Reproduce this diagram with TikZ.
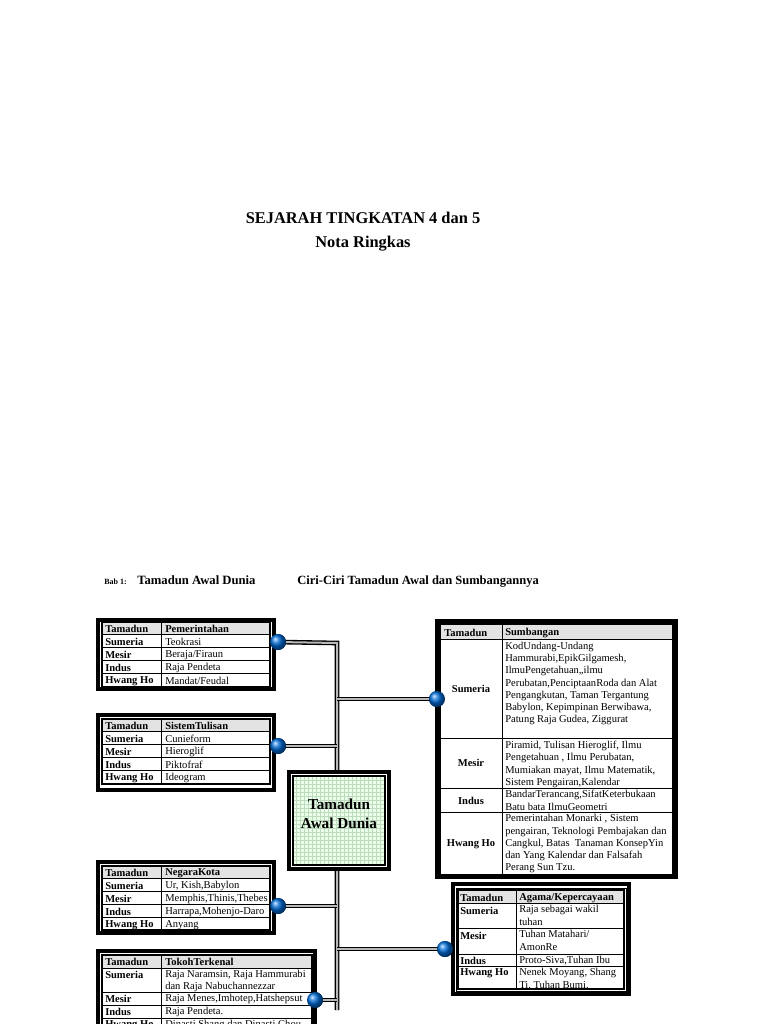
\documentclass[tikz,border=0pt]{standalone}
\usepackage{fontspec}
\setmainfont{Liberation Serif}
\usetikzlibrary{patterns}
\tikzset{
  tt/.style={font=\fontsize{7.9}{9.2}\selectfont, inner sep=0pt, anchor=west, yshift=-0.6pt},
  frame/.style={draw=black, line width=2.6pt},
  inner/.style={draw=black, line width=0.8pt},
  grid/.style={draw=black, line width=0.5pt},
  hdr/.style={fill=gray!22},
  conn/.style={draw=black, line width=1pt, double=gray!55, double distance=1.5pt},
  ball/.style={circle, minimum size=12pt, inner sep=0pt, ball color=blue!50!cyan!85!black, draw=none},
}
\newcommand\stbl[9]{%
  \fill[hdr] (#1,#4) rectangle (#2,#5);
  \draw[grid] (#1,#5) -- (#2,#5) (#1,#6) -- (#2,#6) (#1,#7) -- (#2,#7) (#1,#8) -- (#2,#8) (#3,#4) -- (#3,#9);
  \draw[inner] (#1,#4) rectangle (#2,#9);
}
\begin{document}
\begin{tikzpicture}[x=0.75pt,y=-0.75pt]
\useasboundingbox[fill=white] (0,0) rectangle (768,1024);
\begin{scope}
\clip (0,0) rectangle (768,1024);
% title
\node[font=\bfseries\fontsize{12.3}{14}\selectfont] (t1) at (363,218) {SEJARAH TINGKATAN 4 dan 5};
\node[font=\bfseries\fontsize{12.3}{14}\selectfont] (t2) at (363,244) {Nota Ringkas};
\node[anchor=base west, inner sep=0pt, font=\bfseries\fontsize{6}{8}\selectfont] (b1) at (104,584) {Bab 1:};
\node[anchor=base west, inner sep=0pt, font=\bfseries\fontsize{9.5}{11}\selectfont] (b2) at (137,584) {Tamadun Awal Dunia};
\node[anchor=base west, inner sep=0pt, font=\bfseries\fontsize{9.4}{11}\selectfont] (b3) at (297,584) {Ciri-Ciri Tamadun Awal dan Sumbangannya};

% connectors
\node[ball] (k1) at (278,642) {};
\node[ball] (k2) at (278,746) {};
\node[ball] (k3) at (437,699) {};
\node[ball] (k4) at (278,906) {};
\node[ball] (k5) at (445,949) {};
\node[ball] (k6) at (315,1000) {};
\coordinate (j1) at (337,643);
\coordinate (j2) at (337,1010);
\draw[conn] (k1.center) -- (j1) -- (j2);
\draw[conn] (k2.center) -- (337,746);
\draw[conn] (337,699) -- (k3.center);
\draw[conn] (k4.center) -- (337,906);
\draw[conn] (337,949) -- (k5.center);
\draw[conn] (k6.center) -- (337,1000);

% centre box
\fill[white] (288,771) rectangle (390,870);
\fill[green!8] (293,776) rectangle (385,865);
\draw[pattern=grid, pattern color=green!30!gray!40] (293,776) rectangle (385,865);
\draw[line width=2.4pt] (289,772) rectangle (389,869);
\draw[line width=0.8pt] (293,776) rectangle (385,865);
\node[align=center, font=\bfseries\fontsize{11.4}{14}\selectfont] (c) at (339,814) {Tamadun\\Awal Dunia};

% Table Pemerintahan
\fill[white] (97,619) rectangle (275,690);
\draw[frame] (98,620) rectangle (274,689);
\stbl{102}{270}{161}{622}{634}{647}{660}{673}{687}
\node[tt] at (105,628) {\textbf{Tamadun}}; \node[tt] at (165,628) {\textbf{Pemerintahan}};
\node[tt] at (105,641) {\textbf{Sumeria}}; \node[tt] at (165,641) {Teokrasi};
\node[tt] at (105,654) {\textbf{Mesir}}; \node[tt] at (165,654) {Beraja/Firaun};
\node[tt] at (105,667) {\textbf{Indus}}; \node[tt] at (165,667) {Raja Pendeta};
\node[tt] at (105,680) {\textbf{Hwang Ho}}; \node[tt] at (165,680) {Mandat/Feudal};

% Table SistemTulisan
\fill[white] (97,714) rectangle (275,791);
\draw[frame] (98,715) rectangle (274,790);
\stbl{102}{270}{161}{719}{731}{744}{757}{770}{784}
\node[tt] at (105,725) {\textbf{Tamadun}}; \node[tt] at (165,725) {\textbf{SistemTulisan}};
\node[tt] at (105,738) {\textbf{Sumeria}}; \node[tt] at (165,738) {Cunieform};
\node[tt] at (105,751) {\textbf{Mesir}}; \node[tt] at (165,751) {Hieroglif};
\node[tt] at (105,764) {\textbf{Indus}}; \node[tt] at (165,764) {Piktofraf};
\node[tt] at (105,777) {\textbf{Hwang Ho}}; \node[tt] at (165,777) {Ideogram};

% Table NegaraKota
\fill[white] (97,861) rectangle (275,934);
\draw[frame] (98,862) rectangle (274,933);
\stbl{102}{270}{161}{866}{878}{891}{904}{917}{930}
\node[tt] at (105,872) {\textbf{Tamadun}}; \node[tt] at (165,872) {\textbf{NegaraKota}};
\node[tt] at (105,885) {\textbf{Sumeria}}; \node[tt] at (165,885) {Ur, Kish,Babylon};
\node[tt] at (105,898) {\textbf{Mesir}}; \node[tt] at (165,898) {Memphis,Thinis,Thebes};
\node[tt] at (105,911) {\textbf{Indus}}; \node[tt] at (165,911) {Harrapa,Mohenjo-Daro};
\node[tt] at (105,924) {\textbf{Hwang Ho}}; \node[tt] at (165,924) {Anyang};

% Table TokohTerkenal
\fill[white] (97,950) rectangle (316,1030);
\draw[frame] (98,951) rectangle (315,1040);
\fill[hdr] (102,955) rectangle (312,968);
\draw[grid] (102,968) -- (312,968) (102,992) -- (312,992) (102,1005) -- (312,1005) (102,1018) -- (312,1018) (161,955) -- (161,1036);
\draw[inner] (102,955) rectangle (312,1036);
\node[tt] at (105,961) {\textbf{Tamadun}}; \node[tt] at (165,961) {\textbf{TokohTerkenal}};
\node[tt] at (105,974) {\textbf{Sumeria}};
\node[tt, anchor=north west, align=left] at (165,969) {Raja Naramsin, Raja Hammurabi\\dan Raja Nabuchannezzar};
\node[tt] at (105,998) {\textbf{Mesir}}; \node[tt] at (165,998) {Raja Menes,Imhotep,Hatshepsut};
\node[tt] at (105,1011) {\textbf{Indus}}; \node[tt] at (165,1011) {Raja Pendeta.};
\node[tt] at (105,1024) {\textbf{Hwang Ho}}; \node[tt] at (165,1024) {Dinasti Shang dan Dinasti Chou};

% Table Sumbangan
\fill[white] (436,620) rectangle (677,878);
\draw[frame] (437,621) rectangle (676,877);
\fill[hdr] (440,624) rectangle (673,639);
\draw[grid] (440,639) -- (673,639) (440,738) -- (673,738) (440,788) -- (673,788) (440,812) -- (673,812) (502,624) -- (502,875);
\draw[inner] (440,624) rectangle (673,875);
\node[tt] at (444,632) {\textbf{Tamadun}}; \node[tt] at (505,632) {\textbf{Sumbangan}};
\node[tt, anchor=center] at (471,688) {\textbf{Sumeria}};
\node[tt, anchor=center] at (471,762) {\textbf{Mesir}};
\node[tt, anchor=center] at (471,800) {\textbf{Indus}};
\node[tt, anchor=center] at (471,843) {\textbf{Hwang Ho}};
\node[tt, anchor=north west, align=left] at (505,641) {KodUndang-Undang\\Hammurabi,EpikGilgamesh,\\IlmuPengetahuan,,ilmu\\Perubatan,PenciptaanRoda dan Alat\\Pengangkutan, Taman Tergantung\\Babylon, Kepimpinan Berwibawa,\\Patung Raja Gudea, Ziggurat};
\node[tt, anchor=north west, align=left] at (505,740) {Piramid, Tulisan Hieroglif, Ilmu\\Pengetahuan , Ilmu Perubatan,\\Mumiakan mayat, Ilmu Matematik,\\Sistem Pengairan,Kalendar};
\node[tt, anchor=north west, align=left] at (505,789.5) {BandarTerancang,SifatKeterbukaan\\Batu bata IlmuGeometri};
\node[tt, anchor=north west, align=left] at (505,813.5) {Pemerintahan Monarki , Sistem\\pengairan, Teknologi Pembajakan dan\\Cangkul, Batas\ \ Tanaman KonsepYin\\dan Yang Kalendar dan Falsafah\\Perang Sun Tzu.};

% Table Agama
\fill[white] (452,883) rectangle (630,995);
\draw[frame] (453,884) rectangle (629,994);
\draw[line width=0.6pt] (456,888) rectangle (626,991);
\fill[hdr] (458,890) rectangle (624,903);
\draw[grid] (458,903) -- (624,903) (458,928) -- (624,928) (458,954) -- (624,954) (458,966) -- (624,966) (516,890) -- (516,989);
\draw[inner] (458,890) rectangle (624,989);
\node[tt] at (460,897) {\textbf{Tamadun}}; \node[tt] at (519,897) {\textbf{Agama/Kepercayaan}};
\node[tt] at (460,910) {\textbf{Sumeria}};
\node[tt, anchor=north west, align=left] at (519,904.5) {Raja sebagai wakil\\tuhan};
\node[tt] at (460,935) {\textbf{Mesir}};
\node[tt, anchor=north west, align=left] at (519,929.5) {Tuhan Matahari/\\AmonRe};
\node[tt] at (460,960) {\textbf{Indus}}; \node[tt] at (519,960) {Proto-Siva,Tuhan Ibu};
\node[tt] at (460,972) {\textbf{Hwang Ho}};
\node[tt, anchor=north west, align=left] at (519,967.5) {Nenek Moyang, Shang\\Ti, Tuhan Bumi,};

% balls on top
\foreach \p in {(278,642),(278,746),(437,699),(278,906),(445,949),(315,1000)}
  \node[ball] at \p {};
\end{scope}
\end{tikzpicture}
\end{document}
